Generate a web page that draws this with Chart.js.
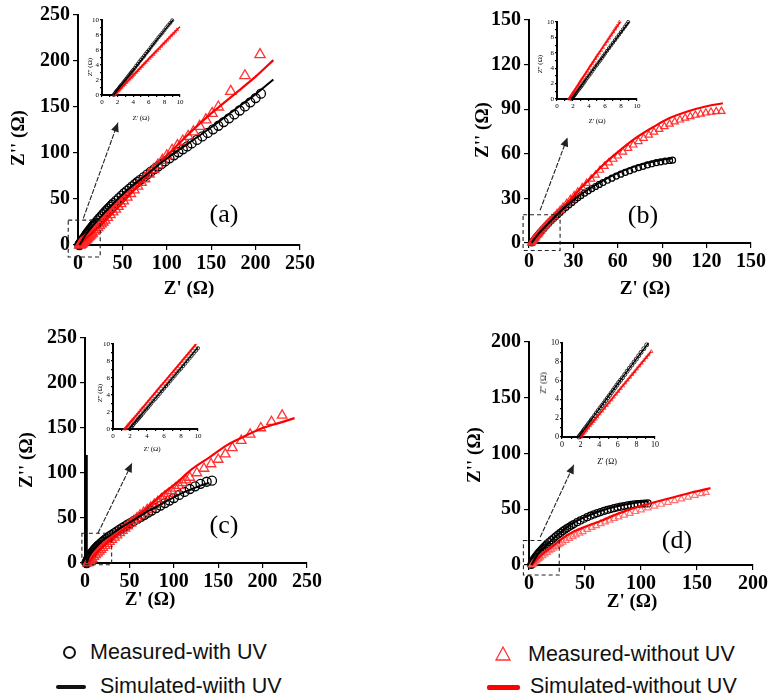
<!DOCTYPE html>
<html><head><meta charset="utf-8">
<script src="https://cdn.jsdelivr.net/npm/chart.js@4.4.1/dist/chart.umd.min.js"></script>
<style>
body{margin:0;background:#fff;width:772px;height:697px;overflow:hidden;position:relative;font-family:"Liberation Serif",serif;}
canvas{position:absolute;}
.t{position:absolute;white-space:nowrap;color:#000;transform:translate(-50%,-50%);line-height:1;}
.ty{transform:translate(-50%,-50%) rotate(-90deg);}
.ax{font-weight:bold;font-size:19px;}
.in{font-size:7px;}
.pl{font-size:26px;}
.lg{position:absolute;font-family:"Liberation Sans",Arial,sans-serif;font-size:21.5px;color:#111;white-space:nowrap;line-height:1;transform:translateY(-50%);}
</style></head><body>
<script>
// ---------- Panel (a) ----------
const aMeasWith=[[1.5,0],[2,0.7],[2.5,1.4],[3,2.1],[3.5,2.8],[4,3.5],[4.5,4.2],[5,4.9],[5.5,5.6],[6,6.4],[7,7.8],[8,9.2],[9,10.6],[10,12],[11,13.3],[12,14.6],[13,15.9],[14,17.2],[15,18.4],[16,19.6],[17,20.8],[18,22],[19,23.2],[20,24.4],[22,26.8],[24,29],[26,31.2],[28,33.4],[30,35.5],[32,37.5],[34,39.5],[36,41.5],[38,43.5],[40,45.5],[43,48.3],[46,51],[49,53.7],[52,56.3],[55,58.8],[58,61.3],[61,63.7],[64,66.1],[67,68.5],[70,70.8],[74,73.8],[78,76.8],[82,79.7],[86,82.5],[90,85.3],[94,88],[98,90.8],[103,94.2],[108,97.5],[113,100.8],[118,104],[123,107.2],[128,110.4],[134,114.2],[140,118],[146,121.8],[152,125.7],[158,129.6],[164,133.6],[170,137.7],[176,141.9],[182,146.2],[188,150.6],[194,155.1],[200,159.7],[206,164.5]];
const aSimWith=[[1.5,0],[5,5.5],[10,13],[25,30],[50,55],[75,75],[100,94],[125,111],[150,128],[175,146],[200,164],[220,180]];
const aMeasWithout=[[2,0],[2.5,0.4],[3,0.8],[3.5,1.2],[4,1.6],[4.5,2],[5,2.5],[6,3.3],[7,4.2],[8,5.1],[9,6],[10,7],[11,8],[12,9],[13,10],[14,11],[15,12],[16,13],[18,15],[20,17],[22,19],[24,21],[26,23],[28,25],[30,27],[33,30],[36,33],[39,36],[42,39],[45,42],[48,45],[51,48],[55,52],[59,56],[63,60],[67,64],[71,68],[75,72],[80,77],[85,82],[90,87],[95,92],[100,97],[106,103],[112,108],[118,113],[124,118],[130,123],[137,129],[144,136],[151,143],[158,150],[172,167],[188,184],[205,207]];
const aSimWithout=[[2,0],[10,8],[25,21],[50,46],[75,72],[100,97],[125,121],[150,143],[175,163],[200,183],[220,201]];
const aInMeasWith=[[1.5,0],[1.6,0.15],[1.7,0.3],[1.8,0.45],[1.9,0.55],[2.0,0.7],[2.1,0.8],[2.2,0.95],[2.3,1.1],[2.4,1.2],[2.5,1.35],[2.65,1.55],[2.8,1.75],[2.95,1.95],[3.1,2.15],[3.25,2.35],[3.4,2.55],[3.55,2.75],[3.7,2.95],[3.85,3.15],[4.0,3.35],[4.2,3.6],[4.4,3.9],[4.6,4.15],[4.8,4.45],[5.0,4.7],[5.2,4.95],[5.4,5.2],[5.6,5.5],[5.8,5.75],[6.0,6.0],[6.25,6.35],[6.5,6.7],[6.75,7.0],[7.0,7.35],[7.25,7.7],[7.5,8.0],[7.75,8.3],[8.0,8.65],[8.25,9.0],[8.5,9.3],[8.75,9.6],[9.0,9.95]];
const aInSimWith=[[1.5,0],[3,2.0],[5,4.6],[7,7.3],[9.1,10]];
const aInMeasWithout=[[1.6,0],[1.75,0.15],[1.9,0.3],[2.05,0.5],[2.2,0.65],[2.35,0.85],[2.5,1.0],[2.7,1.2],[2.9,1.4],[3.1,1.65],[3.3,1.85],[3.5,2.1],[3.7,2.3],[3.9,2.5],[4.1,2.7],[4.35,3.0],[4.6,3.25],[4.85,3.55],[5.1,3.8],[5.35,4.1],[5.6,4.35],[5.85,4.6],[6.1,4.9],[6.35,5.15],[6.6,5.4],[6.85,5.7],[7.1,5.95],[7.35,6.2],[7.6,6.5],[7.85,6.8],[8.1,7.05],[8.35,7.3],[8.6,7.6],[8.85,7.9],[9.1,8.15],[9.35,8.4],[9.6,8.7]];
const aInSimWithout=[[1.6,0],[4,2.6],[7,5.9],[10,9.1]];

// ---------- Panel (b) ----------
const bMeasWith=[[1.8,0],[2.3,0.6],[2.8,1.2],[3.3,1.9],[3.8,2.6],[4.4,3.4],[5,4.2],[5.7,5],[6.4,5.9],[7.2,6.8],[8,7.7],[9,8.8],[10,9.9],[11,11],[12.2,12.2],[13.5,13.5],[15,15],[16.5,16.4],[18,17.8],[19.5,19.2],[21,20.5],[23,22.3],[25,24],[27,25.7],[29,27.3],[31,28.9],[33,30.4],[35,31.8],[37.5,33.5],[40,35.1],[42.5,36.6],[45,38],[47.5,39.4],[50,40.7],[53,42.2],[56,43.6],[59,45],[62,46.3],[65,47.5],[68,48.6],[71,49.7],[74,50.7],[77,51.6],[80,52.5],[83,53.3],[86,54],[89,54.6],[92,55.1],[95,55.5],[97,55.7]];
const bSimWith=[[1.8,0],[5,4.5],[10,10],[20,20],[30,29],[40,36],[50,42],[60,47],[70,51],[80,54],[90,56],[97,57]];
const bMeasWithout=[[1.5,0],[2,0.6],[2.5,1.2],[3,1.9],[3.6,2.6],[4.2,3.4],[4.9,4.2],[5.6,5.1],[6.4,6],[7.2,7],[8.1,8.1],[9,9.2],[10,10.4],[11.2,11.7],[12.5,13.1],[14,14.7],[15.5,16.2],[17,17.8],[19,19.9],[21,22],[23,24.1],[25.5,26.7],[28,29.3],[30.5,31.8],[33,34.3],[36,37.3],[39,40.2],[42,43],[45,45.7],[48,49],[51,51.6],[54,54],[57,56.4],[60,58.6],[63.5,61.2],[67,63.7],[70.5,66],[74,68.3],[77.5,70.5],[81,72.6],[84.5,74.6],[88,76.5],[91.5,78.3],[95,80],[98.5,81.5],[102,82.8],[105.5,84],[109,85.1],[112.5,86],[116,86.8],[119.5,87.5],[123,88],[126.5,88.4],[130,88.6]];
const bSimWithout=[[1.5,0],[5,4.8],[10,10.3],[21,21.5],[30,31.5],[39,41],[50,52.5],[61,62],[72,70.5],[84,78],[95,84],[107,88.5],[120,92],[131,94]];
const bInMeasWith=[[1.8,0],[1.9,0.12],[2.0,0.25],[2.1,0.38],[2.2,0.5],[2.3,0.65],[2.4,0.8],[2.55,1.0],[2.7,1.2],[2.85,1.4],[3.0,1.6],[3.15,1.8],[3.3,2.05],[3.45,2.25],[3.6,2.5],[3.8,2.75],[4.0,3.05],[4.2,3.3],[4.4,3.6],[4.6,3.9],[4.8,4.2],[5.0,4.45],[5.2,4.75],[5.4,5.0],[5.6,5.3],[5.8,5.6],[6.0,5.9],[6.25,6.25],[6.5,6.6],[6.75,6.95],[7.0,7.3],[7.25,7.65],[7.5,8.0],[7.75,8.35],[8.0,8.7],[8.25,9.05],[8.5,9.4],[8.7,9.7],[8.9,10]];
const bInSimWith=[[1.8,0],[5,4.5],[9.0,10]];
const bInMeasWithout=[[1.5,0],[1.6,0.15],[1.7,0.3],[1.8,0.45],[1.9,0.6],[2.0,0.8],[2.1,0.95],[2.25,1.15],[2.4,1.4],[2.55,1.65],[2.7,1.9],[2.85,2.15],[3.0,2.4],[3.2,2.7],[3.4,3.0],[3.6,3.3],[3.8,3.6],[4.0,3.95],[4.2,4.3],[4.4,4.6],[4.6,4.9],[4.8,5.25],[5.0,5.6],[5.25,5.95],[5.5,6.3],[5.75,6.7],[6.0,7.1],[6.25,7.5],[6.5,7.9],[6.75,8.3],[7.0,8.7],[7.25,9.1],[7.5,9.5],[7.8,10]];
const bInSimWithout=[[1.5,0],[4.5,4.8],[7.9,10]];

// ---------- Panel (c) ----------
const cMeasWith=[[2,0],[2.3,1],[2.6,2],[3,3],[3.5,4],[4,5],[4.5,6],[5,7],[6,8.5],[7,10],[8,11.3],[9,12.6],[10,13.8],[11,15],[12,16.1],[13,17.2],[14,18.2],[15,19.2],[16,20.2],[18,22],[20,23.8],[22,25.4],[24,27],[26,28.4],[28,29.8],[30,31.2],[33,33.2],[36,35.2],[39,37.1],[42,39],[45,40.8],[48,42.6],[51,44.4],[55,46.7],[59,49],[63,51.3],[67,53.6],[71,55.9],[75,58.2],[80,61],[85,63.8],[90,66.6],[95,69.4],[100,72.2],[106,75.6],[112,79],[118,82.2],[124,85.2],[130,88],[137,90.3],[143,91.5]];
const cSimWith=[[2,0],[5,8],[10,15],[20,25],[30,32],[40,39],[50,45],[60,51],[70,57],[80,62],[90,68],[100,73],[110,78],[120,82],[130,86],[140,89]];
const cMeasWithout=[[3,0],[3.5,0.5],[4,1],[5,2],[6,3],[7,4],[8,5],[10,7],[12,9],[14,11],[16,13],[18,15],[20,17],[22.5,19.3],[25,21.5],[27.5,23.8],[30,26],[33,28.5],[36,31],[39,33.5],[42,36],[45,38.5],[48,41],[51.5,44],[55,47],[58.5,50],[62,53],[66,56],[70,59],[74,62],[78,65],[82,68],[86,71],[90,74],[94,77],[98,80],[102,83],[106,86],[110,89],[114,92],[118,95],[126,100],[134,105],[142,110],[150,115],[158,121],[166,128],[176,136],[186,143],[198,150],[210,157],[222,164]];
const cSimWithout=[[4,0],[10,8],[20,18],[30,27],[47,40],[60,52],[75,66],[90,79],[103,89],[120,104],[141,118],[160,131],[178,140],[200,150],[220,156],[236,161]];
const cVertical=[[2,0],[2,120]];
const cInMeasWith=[[2.0,0],[2.1,0.12],[2.2,0.25],[2.35,0.45],[2.5,0.65],[2.7,0.85],[2.85,1.05],[3.0,1.2],[3.15,1.4],[3.3,1.55],[3.5,1.8],[3.7,2.05],[3.9,2.3],[4.1,2.5],[4.3,2.75],[4.5,3.0],[4.75,3.3],[5.0,3.55],[5.25,3.85],[5.5,4.15],[5.75,4.45],[6.0,4.75],[6.25,5.05],[6.5,5.35],[6.75,5.65],[7.0,5.95],[7.25,6.25],[7.5,6.55],[7.75,6.85],[8.0,7.1],[8.25,7.4],[8.5,7.7],[8.75,8.0],[9.0,8.3],[9.25,8.6],[9.5,8.9],[9.75,9.2],[10,9.5]];
const cInSimWith=[[1.9,0],[6,4.8],[10,9.6]];
const cInMeasWithout=[[1.4,0],[1.5,0.12],[1.6,0.25],[1.7,0.38],[1.8,0.5],[1.95,0.68],[2.1,0.85],[2.25,1.02],[2.4,1.2],[2.6,1.42],[2.8,1.65],[3.0,1.9],[3.2,2.15],[3.4,2.38],[3.6,2.6],[3.85,2.9],[4.1,3.2],[4.35,3.5],[4.6,3.8],[4.85,4.1],[5.1,4.4],[5.35,4.7],[5.6,5.0],[5.85,5.28],[6.1,5.55],[6.35,5.85],[6.6,6.15],[6.85,6.45],[7.1,6.75],[7.35,7.05],[7.6,7.35],[7.85,7.65],[8.1,7.95],[8.35,8.25],[8.6,8.55],[8.85,8.85],[9.1,9.15],[9.35,9.45],[9.6,9.75]];
const cInSimWithout=[[1.4,0],[5.5,4.9],[9.8,10]];

// ---------- Panel (d) ----------
const dMeasWith=[[2,0],[2.5,1],[3,2],[3.5,3],[4,4],[4.5,5],[5,6],[6,7.3],[7,8.6],[8,9.9],[9,11.1],[10,12.3],[11,13.4],[12,14.5],[13,15.6],[14,16.6],[15,17.6],[16,18.6],[18,20.5],[20,22.3],[22,24],[24,25.7],[26,27.3],[28,28.8],[30,30.3],[32,31.7],[34,33],[36,34.3],[38,35.5],[40,36.7],[43,38.4],[46,40],[49,41.5],[52,42.9],[55,44.2],[58,45.4],[61,46.5],[64,47.5],[67,48.5],[70,49.4],[73,50.2],[76,51],[79,51.7],[82,52.3],[85,52.9],[88,53.4],[91,53.9],[94,54.3],[97,54.6],[100,54.9],[103,55.1],[106,55.2]];
const dSimWith=[[2,0],[5,5],[10,12],[20,22],[30,31],[40,38],[50,43],[60,47],[70,50.5],[80,53],[90,55],[100,56.5],[107,57]];
const dMeasWithout=[[2.5,0],[3,0.5],[3.5,1],[4,1.5],[5,2.5],[6,3.5],[7,4.5],[8,5.3],[9,6.1],[10,6.9],[12,8.4],[14,9.9],[16,11.3],[18,12.7],[20,14],[22,15.3],[24,16.6],[26,17.9],[28,19.1],[30,20.3],[33,22],[36,23.7],[39,25.3],[42,26.9],[45,28.4],[48,29.9],[52,31.8],[56,33.6],[60,35.3],[64,37],[68,38.6],[72,40.1],[76,41.6],[80,43],[85,44.7],[90,46.3],[95,47.9],[100,49.4],[106,51.1],[112,52.8],[118,54.4],[124,56],[130,57.6],[136,59.2],[142,60.8],[148,62.4],[154,64],[158,65]];
const dSimWithout=[[2.5,0],[5,3],[10,8],[20,16],[30,24],[40,30],[52,35],[65,40],[82,47],[100,53],[111,56],[130,61],[145,65],[162,69]];
const dInMeasWith=[[1.8,0],[1.9,0.12],[2.0,0.25],[2.1,0.38],[2.2,0.5],[2.3,0.65],[2.4,0.8],[2.55,1.0],[2.7,1.2],[2.85,1.4],[3.0,1.6],[3.15,1.8],[3.3,2.0],[3.5,2.28],[3.7,2.55],[3.9,2.82],[4.1,3.1],[4.3,3.35],[4.5,3.6],[4.7,3.88],[4.9,4.15],[5.1,4.42],[5.3,4.7],[5.5,4.98],[5.7,5.25],[5.9,5.52],[6.1,5.8],[6.3,6.05],[6.5,6.3],[6.75,6.65],[7.0,7.0],[7.25,7.32],[7.5,7.65],[7.75,7.98],[8.0,8.3],[8.25,8.65],[8.5,9.0],[8.8,9.4],[9.1,9.8]];
const dInSimWith=[[1.8,0],[5.5,5.0],[9.3,10]];
const dInMeasWithout=[[2.0,0],[2.15,0.18],[2.3,0.35],[2.45,0.52],[2.6,0.7],[2.8,0.95],[3.0,1.2],[3.2,1.42],[3.4,1.65],[3.6,1.9],[3.8,2.15],[4.05,2.45],[4.3,2.75],[4.55,3.05],[4.8,3.35],[5.05,3.65],[5.3,3.95],[5.55,4.25],[5.8,4.55],[6.05,4.85],[6.3,5.15],[6.55,5.45],[6.8,5.75],[7.05,6.05],[7.3,6.35],[7.55,6.65],[7.8,6.95],[8.05,7.25],[8.3,7.55],[8.55,7.85],[8.8,8.15],[9.05,8.45],[9.3,8.75],[9.6,9.1]];
const dInSimWithout=[[2.0,0],[6,4.8],[9.6,9.1]];

// ---------- helpers ----------
const P=a=>a.map(([x,y])=>({x,y}));
function makeCanvas(l,t,w,h){const c=document.createElement('canvas');c.width=w;c.height=h;c.style.left=l+'px';c.style.top=t+'px';c.style.width=w+'px';c.style.height=h+'px';document.body.appendChild(c);return c;}
function makeOverlay(box,arrow){return{id:'overlay',afterDraw(chart){
  if(!box)return;const ctx=chart.ctx,xs=chart.scales.x,ys=chart.scales.y;
  const X=v=>xs.getPixelForValue(v),Y=v=>ys.getPixelForValue(v);
  ctx.save();ctx.strokeStyle='#222';ctx.fillStyle='#222';ctx.lineWidth=1.1;ctx.setLineDash([4,3]);
  ctx.strokeRect(X(box[0]),Y(box[3]),X(box[2])-X(box[0]),Y(box[1])-Y(box[3]));
  const sx=X(arrow[0]),sy=Y(arrow[1]),ex=X(arrow[2]),ey=Y(arrow[3]);
  ctx.setLineDash([5,1.5]);ctx.beginPath();ctx.moveTo(sx,sy);ctx.lineTo(ex,ey);ctx.stroke();ctx.setLineDash([]);
  const a=Math.atan2(ey-sy,ex-sx),L=9,W=4;
  ctx.beginPath();ctx.moveTo(ex,ey);
  ctx.lineTo(ex-L*Math.cos(a)+W*Math.sin(a),ey-L*Math.sin(a)-W*Math.cos(a));
  ctx.lineTo(ex-L*Math.cos(a)-W*Math.sin(a),ey-L*Math.sin(a)+W*Math.cos(a));
  ctx.closePath();ctx.fill();ctx.restore();}};}
function datasets(c){
  const ds=[
   {data:P(c.simWith),showLine:true,borderColor:'#000',borderWidth:c.lw,pointRadius:0,tension:0.35,order:1,clip:false},
   {data:P(c.simWithout),showLine:true,borderColor:'#ff0000',borderWidth:c.lw+0.2,pointRadius:0,tension:0.35,order:2,clip:false},
   {data:P(c.measWith),pointStyle:'circle',pointRadius:c.rc,borderColor:'#000',borderWidth:c.bw,backgroundColor:'rgba(0,0,0,0)',order:4,clip:false},
   {data:P(c.measWithout),pointStyle:'triangle',pointRadius:c.rt,borderColor:c.tc||'rgba(255,40,40,0.95)',borderWidth:c.bw,backgroundColor:'rgba(0,0,0,0)',order:3,clip:false}];
  if(c.extra)ds.push(c.extra);
  return ds;}
function axis(min,max,step,font,tl,pad,fit,isX,cb){
  const o={type:'linear',min:min,max:max,
    ticks:{stepSize:step,font:font,color:'#000',padding:pad,maxRotation:0,autoSkip:false},
    grid:{drawOnChartArea:false,tickLength:tl,color:'#000',lineWidth:1.2},
    border:{color:'#000',width:2},
    afterFit:s=>{if(isX)s.height=fit;else s.width=fit;}};
  if(cb)o.ticks.callback=cb;return o;}
function chart(c){
  const cv=makeCanvas(c.l,c.t,c.w,c.h);
  new Chart(cv,{type:'scatter',data:{datasets:datasets(c)},
    options:{responsive:false,animation:false,events:[],
      layout:{padding:{left:0,top:c.pt,right:c.pr,bottom:0}},
      plugins:{legend:{display:false},tooltip:{enabled:false}},
      scales:{x:axis(0,c.xmax,c.xstep,c.font,c.tl,c.xpad,c.xh,true,c.cb),
              y:axis(0,c.ymax,c.ystep,c.font,c.tl,c.ypad,c.yw,false,c.cb)}},
    plugins:[makeOverlay(c.box,c.arrow)]});}
const mainFont={family:'"Liberation Serif", serif',size:20,weight:'bold'};
const inFont={family:'"Liberation Serif", serif',size:7};
const evenOnly=v=>(v%2===0?v:'');

// main panels
chart({l:0,t:0,w:320,h:300,pt:15,pr:20,xh:55,yw:78,xmax:250,xstep:50,ymax:250,ystep:50,font:mainFont,tl:5,xpad:2,ypad:3,lw:2,bw:1.3,rc:4.5,rt:6,
  measWith:aMeasWith,simWith:aSimWith,measWithout:aMeasWithout,simWithout:aSimWithout,box:[-11,-13,25,27],arrow:[6,29,45,133]});
chart({l:460,t:0,w:312,h:300,pt:20,pr:21,xh:57,yw:69,xmax:150,xstep:30,ymax:150,ystep:30,font:mainFont,tl:5,xpad:2,ypad:3,lw:2,bw:1.2,rc:3,rt:4.2,
  measWith:bMeasWith,simWith:bSimWith,measWithout:bMeasWithout,simWithout:bSimWithout,box:[-4,-5,21,19],arrow:[7.5,22,26,71]});
chart({l:0,t:320,w:330,h:300,pt:18,pr:23,xh:57,yw:85,xmax:250,xstep:50,ymax:250,ystep:50,font:mainFont,tl:5,xpad:2,ypad:3,lw:2,bw:1.3,rc:4.5,rt:5.5,
  measWith:cMeasWith,simWith:cSimWith,measWithout:cMeasWithout,simWithout:cSimWithout,box:[-3.5,-2,30,33],arrow:[14.5,33,53,111],
  extra:{data:P(cVertical),showLine:true,borderColor:'#000',borderWidth:2,pointRadius:0,order:0,clip:false}});
chart({l:460,t:320,w:312,h:300,pt:22,pr:19,xh:55,yw:69,xmax:200,xstep:50,ymax:200,ystep:50,font:mainFont,tl:5,xpad:2,ypad:3,lw:2,bw:1.2,rc:3.5,rt:3.8,tc:'rgba(255,90,90,0.85)',
  measWith:dMeasWith,simWith:dSimWith,measWithout:dMeasWithout,simWithout:dSimWithout,box:[-5,-9,27,22],arrow:[10,25,40,90]});

// insets
chart({l:84,t:12,w:104,h:120,pt:8,pr:8,xh:37,yw:18,xmax:10,xstep:1,ymax:10,ystep:1,font:inFont,tl:2,xpad:1,ypad:1,lw:1.3,bw:0.8,rc:1.6,rt:1.9,cb:evenOnly,
  measWith:aInMeasWith,simWith:aInSimWith,measWithout:aInMeasWithout,simWithout:aInSimWithout});
chart({l:536,t:12,w:110,h:120,pt:10,pr:9,xh:33,yw:21,xmax:10,xstep:1,ymax:10,ystep:1,font:inFont,tl:2,xpad:1,ypad:1,lw:1.3,bw:0.8,rc:1.6,rt:1.9,cb:evenOnly,
  measWith:bInMeasWith,simWith:bInSimWith,measWithout:bInMeasWithout,simWithout:bInSimWithout});
chart({l:92,t:334,w:115,h:130,pt:10,pr:9,xh:35,yw:21,xmax:10,xstep:1,ymax:10,ystep:1,font:inFont,tl:2,xpad:1,ypad:1,lw:1.3,bw:0.8,rc:1.6,rt:1.9,cb:evenOnly,
  measWith:cInMeasWith,simWith:cInSimWith,measWithout:cInMeasWithout,simWithout:cInSimWithout});
chart({l:541,t:333,w:122,h:140,pt:10,pr:8,xh:36,yw:21,xmax:10,xstep:1,ymax:10,ystep:1,font:{family:'"Liberation Serif", serif',size:8},tl:2,xpad:1,ypad:1,lw:1.3,bw:0.8,rc:2,rt:2,cb:evenOnly,
  measWith:dInMeasWith,simWith:dInSimWith,measWithout:dInMeasWithout,simWithout:dInSimWithout});
</script>

<!-- axis titles -->
<div class="t ax" style="left:189px;top:287px">Z' (Ω)</div>
<div class="t ax ty" style="left:17px;top:138px">Z'' (Ω)</div>
<div class="t ax" style="left:645px;top:287px">Z' (Ω)</div>
<div class="t ax ty" style="left:481px;top:130px">Z'' (Ω)</div>
<div class="t ax" style="left:150px;top:598px">Z' (Ω)</div>
<div class="t ax ty" style="left:25px;top:460px">Z'' (Ω)</div>
<div class="t ax" style="left:632px;top:600px">Z' (Ω)</div>
<div class="t ax ty" style="left:473px;top:455px">Z'' (Ω)</div>

<!-- inset titles -->
<div class="t in" style="left:141px;top:118px">Z' (Ω)</div>
<div class="t in ty" style="left:90px;top:67px">Z'' (Ω)</div>
<div class="t in" style="left:597px;top:121px">Z' (Ω)</div>
<div class="t in ty" style="left:540px;top:64px">Z'' (Ω)</div>
<div class="t in" style="left:152px;top:449px">Z' (Ω)</div>
<div class="t in ty" style="left:100px;top:393px">Z'' (Ω)</div>
<div class="t in" style="left:607px;top:462px;font-size:8px">Z' (Ω)</div>
<div class="t in ty" style="left:544px;top:383px;font-size:8px">Z'' (Ω)</div>

<!-- panel labels -->
<div class="t pl" style="left:224px;top:214px">(a)</div>
<div class="t pl" style="left:643px;top:215px">(b)</div>
<div class="t pl" style="left:224px;top:525px">(c)</div>
<div class="t pl" style="left:677px;top:540px">(d)</div>

<!-- legend -->
<div style="position:absolute;left:63px;top:646px;width:9px;height:9px;border:2.5px solid #111;border-radius:50%"></div>
<div class="lg" style="left:90px;top:653px">Measured-with UV</div>
<div style="position:absolute;left:56px;top:685px;width:30px;height:4px;background:#111;border-radius:2px"></div>
<div class="lg" style="left:100px;top:687px">Simulated-wiith UV</div>
<svg style="position:absolute;left:494px;top:645px" width="18" height="17"><polygon points="9,2 16,15 2,15" fill="none" stroke="#f33" stroke-width="1.3"/></svg>
<div class="lg" style="left:528px;top:655px">Measured-without UV</div>
<div style="position:absolute;left:487px;top:685px;width:33px;height:5px;background:#f00;border-radius:2px"></div>
<div class="lg" style="left:530px;top:687px">Simulated-without UV</div>
</body></html>
